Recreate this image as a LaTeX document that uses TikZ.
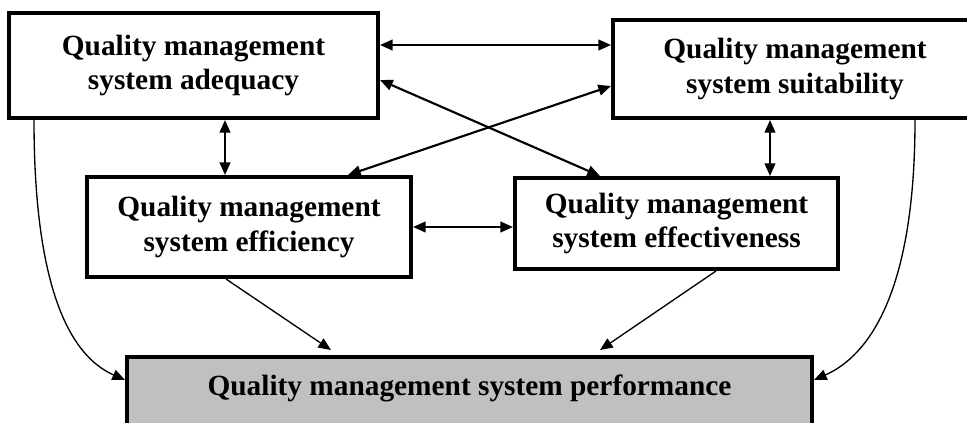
\documentclass[tikz,border=0pt]{standalone}
\usepackage{fontspec}
\setmainfont{Liberation Serif}
\usetikzlibrary{arrows.meta,calc}
\definecolor{perfgray}{RGB}{192,192,192}
\begin{document}
\begin{tikzpicture}[x=0.75pt, y=-0.75pt,
  box/.style={shape=rectangle, draw=black, line width=3pt, align=center, font=\fontsize{22}{26}\selectfont\bfseries},
  both/.style={{Triangle[length=9.5pt,width=8pt]}-{Triangle[length=9.5pt,width=8pt]}, line width=1.6pt},
  single/.style={-{Triangle[length=9.5pt,width=8pt]}, line width=1pt}]
\useasboundingbox (0,0) rectangle (967,422);
\node[box, minimum width=276.75pt, minimum height=78.75pt] (A) at (193.5,65.5) {Quality management\\system adequacy};
\node[box, minimum width=273pt, minimum height=73.5pt] (S) at (795,69) {Quality management\\system suitability};
\node[box, minimum width=243pt, minimum height=75pt] (E) at (249,227) {Quality management\\system efficiency};
\node[box, minimum width=242.25pt, minimum height=68.25pt] (F) at (676.5,223.5) {Quality management\\system effectiveness};
\node[box, fill=perfgray, minimum width=513.75pt, text height=28.5pt, text depth=35pt, inner ysep=0pt, anchor=north] (P) at (469.5,355) {Quality management system performance};
\path [both] ($(A.north east)+(0,34)$) edge ($(S.north west)+(0,27)$);
\path [both] ($(A.north east)+(0,69)$) edge ($(F.north west)+(87,0)$);
\path [both] ($(E.north west)+(263,0)$) edge ($(S.north west)+(0,68)$);
\path [both] ($(A.south west)+(218,0)$) edge ($(E.north west)+(140,0)$);
\path [both] ($(S.south west)+(159,0)$) edge ($(F.north west)+(257,0)$);
\path [both] (E.east) edge (E.east -| F.west);
\path [single] ($(E.south west)+(141,0)$) edge ($(P.north west)+(206,-5)$);
\path [single] ($(F.south west)+(203,0)$) edge ($(P.north west)+(475,-5)$);
\draw [single] ($(A.south west)+(27,0)$) .. controls +(0,190) and +(-45,-20) .. ($(P.north west)+(0,25)$);
\draw [single] ($(S.south west)+(304,0)$) .. controls +(0,190) and +(45,-20) .. ($(P.north east)+(0,25)$);
\end{tikzpicture}
\end{document}
